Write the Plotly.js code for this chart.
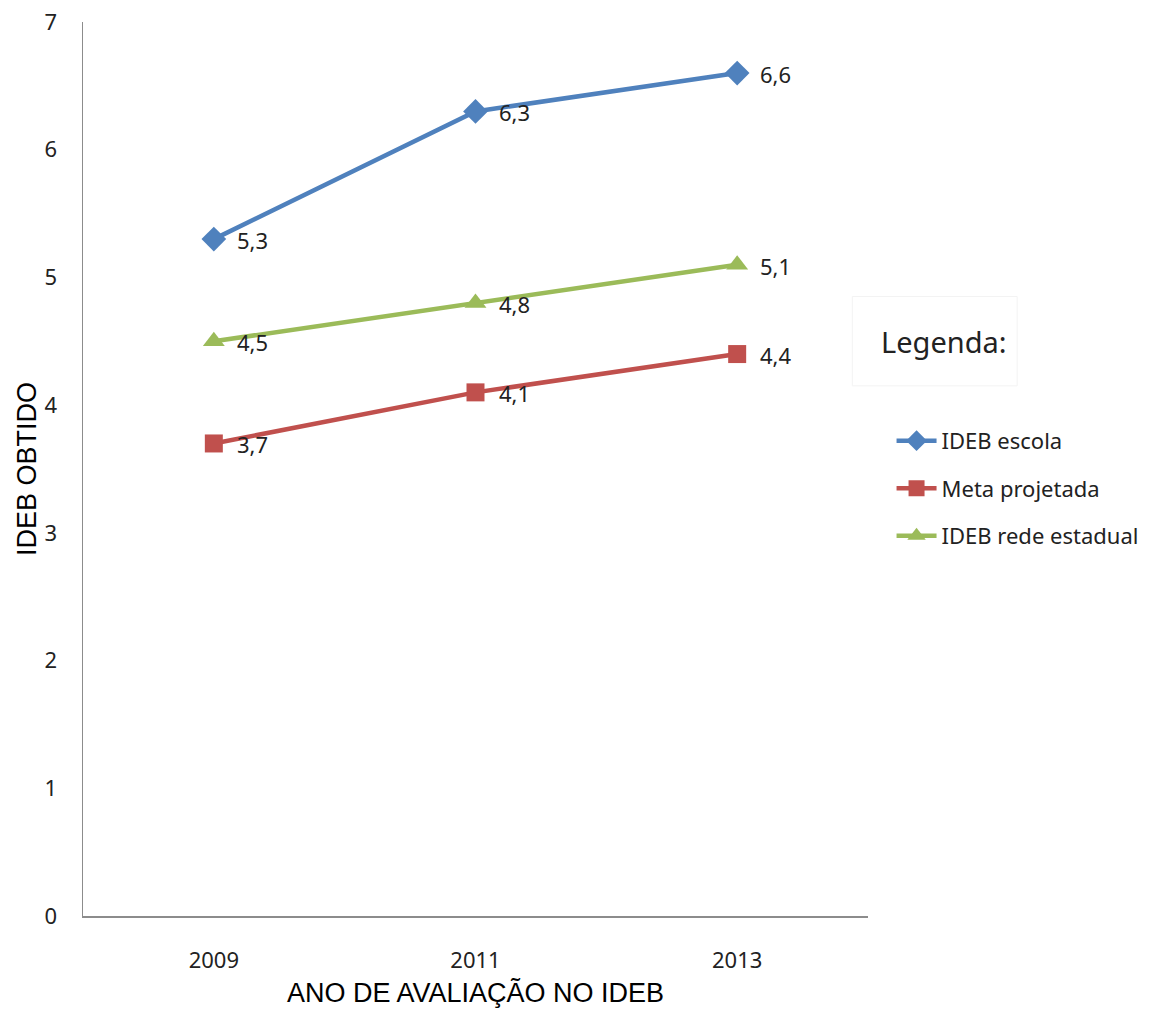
<!DOCTYPE html>
<html>
<head>
<meta charset="utf-8">
<script src="https://cdn.plot.ly/plotly-3.0.1.min.js"></script>
<style>html,body{margin:0;padding:0;background:#fff;}#chart{width:1169px;height:1012px;}</style>
</head>
<body>
<div id="chart"></div>
<script>
const years = ["2009", "2011", "2013"];
const idebEscola = [5.3, 6.3, 6.6];
const metaProjetada = [3.7, 4.1, 4.4];
const idebRedeEstadual = [4.5, 4.8, 5.1];
const seriesNames = ["IDEB escola", "Meta projetada", "IDEB rede estadual"];
const yTicks = [0, 1, 2, 3, 4, 5, 6, 7];

const fmt = v => v.toFixed(1).replace(".", ",");
const FONT = "Noto Sans, Open Sans, sans-serif";
const labelFont = {family: FONT, size: 22, color: "#222"};

function mk(name, ys, color, symbol, size) {
  return {
    x: years, y: ys, name: name, type: "scatter", mode: "lines+markers",
    legendgroup: name,
    line: {color: color, width: 4.5},
    marker: {color: color, symbol: symbol, size: size},
    cliponaxis: false
  };
}

const data = [
  mk(seriesNames[0], idebEscola, "#4f81bd", "diamond", 19),
  mk(seriesNames[1], metaProjetada, "#c0504d", "square", 18),
  mk(seriesNames[2], idebRedeEstadual, "#9bbb59", "triangle-up", 19)
];

const labelAnnotations = [];
[idebEscola, metaProjetada, idebRedeEstadual].forEach(ys => {
  ys.forEach((v, i) => {
    labelAnnotations.push({
      x: i, y: v, xref: "x", yref: "y", text: fmt(v),
      showarrow: false, xanchor: "left", yanchor: "middle",
      xshift: 21, yshift: -1, font: labelFont
    });
  });
});

const layout = {
  width: 1169, height: 1012,
  margin: {l: 83, r: 301, t: 22, b: 96},
  paper_bgcolor: "#fff", plot_bgcolor: "#fff",
  showlegend: true,
  legend: {
    x: 1.03, y: 0.555, xanchor: "left", yanchor: "top",
    font: {family: FONT, size: 22, color: "#222"},
    traceorder: "grouped", tracegroupgap: 16, itemwidth: 40
  },
  xaxis: {
    type: "category", range: [-0.5, 2.5],
    showline: true, linecolor: "#8c8c8c", linewidth: 1.5,
    showgrid: false, zeroline: false, ticks: "",
    tickfont: {family: FONT, size: 22, color: "#222"},
    ticklabelstandoff: 24,
    title: {text: "ANO DE AVALIAÇÃO NO IDEB", font: {family: "Liberation Sans, Arial, sans-serif", size: 27, color: "#000"}, standoff: 10}
  },
  yaxis: {
    range: [0, 7], tickvals: yTicks,
    showline: true, linecolor: "#8c8c8c", linewidth: 1.5,
    showgrid: false, zeroline: false, ticks: "",
    tickfont: {family: FONT, size: 22, color: "#222"},
    ticklabelstandoff: 20,
    title: {text: "IDEB OBTIDO", font: {family: "Liberation Sans, Arial, sans-serif", size: 27, color: "#000"}, standoff: 0}
  },
  shapes: [{
    type: "rect", xref: "paper", yref: "paper",
    x0: 0.98, x1: 1.19, y0: 0.593, y1: 0.693,
    line: {color: "#f3f3f3", width: 1}, fillcolor: "rgba(0,0,0,0)"
  }],
  annotations: labelAnnotations.concat([{
    text: "Legenda:", xref: "paper", yref: "paper",
    x: 1.014, y: 0.643, xanchor: "left", yanchor: "middle", showarrow: false,
    font: {family: "Liberation Sans Narrow, Noto Sans, sans-serif", size: 29, color: "#222"}
  }])
};

Plotly.newPlot("chart", data, layout, {displayModeBar: false, staticPlot: true});
</script>
</body>
</html>
